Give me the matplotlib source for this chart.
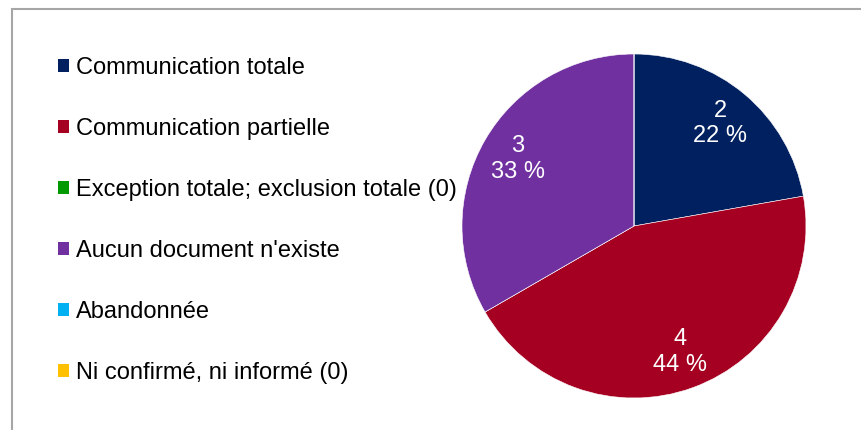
import matplotlib.pyplot as plt
from matplotlib.patches import Patch, Rectangle

plt.rcParams['font.family'] = ['Liberation Sans', 'DejaVu Sans']

categories = ["Communication totale",
              "Communication partielle",
              "Exception totale; exclusion totale (0)",
              "Aucun document n'existe",
              "Abandonnée",
              "Ni confirmé, ni informé (0)"]
counts = [2, 4, 0, 3, 0, 0]
colors = ["#002060", "#A50021", "#009900", "#7030A0", "#00B0F0", "#FFC000"]

total = sum(counts)


def label_fmt(pct):
    n = int(round(pct * total / 100.0))
    if n == 0:
        return ""
    return "%d\n%.0f %%" % (n, pct)


W, H = 861, 430
fig = plt.figure(figsize=(W / 100, H / 100), dpi=100)

# chart frame, cut off on the right and at the bottom
fig.add_artist(Rectangle((12 / W, -0.1), 1.2, 1.1 - 9 / H, transform=fig.transFigure,
                         fill=False, edgecolor="#A6A6A6", linewidth=1.5))

cx, cy, r = 634, 226, 172
ax = fig.add_axes([(cx - r) / W, (H - cy - r) / H, 2 * r / W, 2 * r / H])
wedges, texts, autotexts = ax.pie(counts, colors=colors, startangle=90, counterclock=False,
                                  autopct=label_fmt, pctdistance=0.78, radius=1,
                                  wedgeprops=dict(edgecolor="white", linewidth=0.4),
                                  textprops=dict(color="white", fontsize=17))
for t in autotexts:
    t.set_horizontalalignment("center")
    t.set_linespacing(1.2)
ax.set_xlim(-1, 1)
ax.set_ylim(-1, 1)
ax.set_aspect("equal")

handles = [Patch(facecolor=c, edgecolor="none") for c in colors]
fig.legend(handles, categories, loc="upper left", bbox_to_anchor=(58 / W, 1 - 57 / H),
           frameon=False, fontsize=17, handlelength=0.47, handleheight=0.47,
           handletextpad=0.3, labelspacing=1.65, borderaxespad=0, borderpad=0)

fig.savefig("out.png", dpi=100)
